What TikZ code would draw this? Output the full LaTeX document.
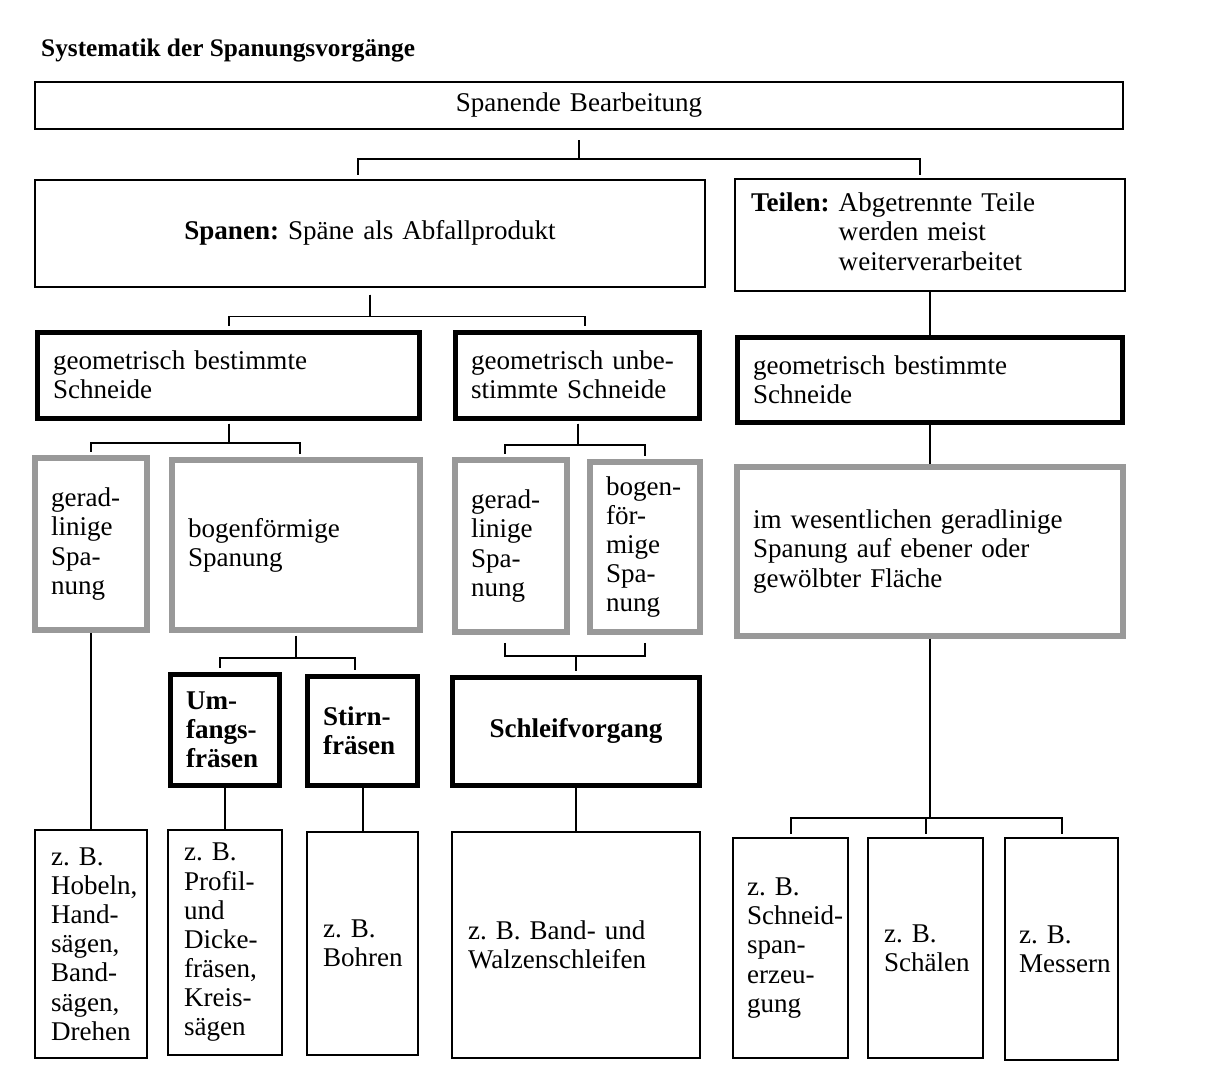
\documentclass[tikz,border=0pt]{standalone}
\usepackage{fontspec}
\setmainfont{Liberation Serif}
\usepackage{tikz}
\hyphenpenalty=10000
\exhyphenpenalty=10000
\frenchspacing
\definecolor{spangrey}{gray}{0.6}

\begin{document}
\begin{tikzpicture}[x=0.02cm,y=-0.02cm]
  \tikzset{every node/.style={font=\fontsize{15.4}{16.6}\selectfont},
    thin box/.style 2 args={draw,line width=0.04cm,text width=#1,minimum height=#2,inner xsep=0.32cm,align=left},
    thick box/.style 2 args={draw,line width=0.1cm,text width=#1,minimum height=#2,inner xsep=0.32cm,align=left},
    grey box/.style 2 args={draw=spangrey,line width=0.12cm,text width=#1,minimum height=#2,inner xsep=0.32cm,align=left},
    fork/.style={line width=0.04cm,shorten >=0.07cm},
    fork line/.style={line width=0.04cm}}
  \useasboundingbox (0,0) rectangle (1218,1090);

  \node (titel) [anchor=base west,font=\bfseries\fontsize{14.4}{16}\selectfont] at (35,56) {Systematik der Spanungsvorgänge};

  \node (spbear) [thin box={21.12cm}{0.94cm},align=center] at (579,105.5) {Spanende Bearbeitung};
  \node (spanen) [thin box={12.76cm}{2.14cm},align=center] at (370,233) {\textbf{Spanen:} Späne als Abfallprodukt};
  \node (teilen) [thin box={7.16cm}{2.24cm}] at (930,235) {\textbf{Teilen:} \begin{tabular}[t]{@{}l@{}}Abgetrennte Teile\\werden meist\\weiterverarbeitet\end{tabular}};

  \node (gbs1) [thick box={7.02cm}{1.72cm}] at (228.5,375) {geometrisch bestimmte\\Schneide};
  \node (gus) [thick box={4.26cm}{1.72cm}] at (577.5,375) {geometrisch unbe-\\stimmte Schneide};
  \node (gbs2) [thick box={7.08cm}{1.7cm}] at (930,379.5) {geometrisch bestimmte\\Schneide};

  \node (gl1) [grey box={1.6cm}{3.44cm}] at (91,544) {gerad-\\linige\\Spa-\\nung};
  \node (bf1) [grey box={4.32cm}{3.4cm}] at (296,545) {bogenförmige\\Spanung};
  \node (gl2) [grey box={1.6cm}{3.44cm}] at (511,546) {gerad-\\linige\\Spa-\\nung};
  \node (bf2) [grey box={1.56cm}{3.4cm}] at (645,547) {bogen-\\för-\\mige\\Spa-\\nung};
  \node (imw) [grey box={7.08cm}{3.38cm}] at (930,551.5) {im wesentlichen geradlinige\\Spanung auf ebener oder\\gewölbter Fläche};

  \node (umf) [thick box={1.56cm}{2.22cm},font=\bfseries\fontsize{15.4}{16.6}\selectfont] at (225,729.5) {Um-\\fangs-\\fräsen};
  \node (stirn) [thick box={1.58cm}{2.18cm},font=\bfseries\fontsize{15.4}{16.6}\selectfont] at (362.5,730.5) {Stirn-\\fräsen};
  \node (schleif) [thick box={4.32cm}{2.16cm},align=center,font=\bfseries\fontsize{15.4}{16.6}\selectfont] at (576,731) {Schleifvorgang};

  \node (bsp1) [thin box={1.6cm}{4.56cm}] at (91,944) {z. B.\\Hobeln,\\Hand-\\sägen,\\Band-\\sägen,\\Drehen};
  \node (bsp2) [thin box={1.64cm}{4.5cm}] at (225,942.5) {z. B.\\Profil-\\und\\Dicke-\\fräsen,\\Kreis-\\sägen};
  \node (bsp3) [thin box={1.58cm}{4.46cm}] at (362.5,943.5) {z. B.\\Bohren};
  \node (bsp4) [thin box={4.32cm}{4.52cm}] at (576,945) {z. B. Band- und\\Walzenschleifen};
  \node (bsp5) [thin box={1.74cm}{4.4cm},inner xsep=0.28cm] at (790.5,948) {z. B.\\Schneid-\\span-\\erzeu-\\gung};
  \node (bsp6) [thin box={1.66cm}{4.4cm}] at (925.5,948) {z. B.\\Schälen};
  \node (bsp7) [thin box={1.7cm}{4.44cm},inner xsep=0.28cm] at (1061.5,949) {z. B.\\Messern};

  \draw[fork] (spbear.south) ++(0,10) -- ++(0,19) -| ([xshift=-0.24cm]spanen.north);
  \draw[fork] (spbear.south) ++(0,10) -- ++(0,19) -| ([xshift=-0.2cm]teilen.north);
  \draw[fork] (spanen.south) ++(0,7) -- ++(0,22) -| (gbs1.north);
  \draw[fork] (spanen.south) ++(0,7) -- ++(0,22) -| ([xshift=0.15cm]gus.north);
  \draw[fork line] (teilen) -- (gbs2);
  \draw[fork] (gbs1.south) ++(0,3) -- ++(0,19) -| (gl1.north);
  \draw[fork] (gbs1.south) ++(0,3) -- ++(0,19) -| ([xshift=0.08cm]bf1.north);
  \draw[fork] (gus.south) ++(0,3) -- ++(0,21) -| ([xshift=-0.12cm]gl2.north);
  \draw[fork] (gus.south) ++(0,3) -- ++(0,21) -| (bf2.north);
  \draw[fork line] (gbs2) -- (imw);
  \draw[fork] (bf1.south) ++(0,3) -- ++(0,22) -| ([xshift=-0.1cm]umf.north);
  \draw[fork] (bf1.south) ++(0,3) -- ++(0,22) -| ([xshift=-0.15cm]stirn.north);
  \draw[fork] ([xshift=-0.12cm]gl2.south) ++(0,8) -- ++(0,13) -| (schleif.north);
  \draw[fork] (bf2.south) ++(0,8) -- ++(0,13) -| (schleif.north);
  \draw[fork line] (gl1) -- (bsp1);
  \draw[fork line] (umf) -- (bsp2);
  \draw[fork line] (stirn) -- (bsp3);
  \draw[fork line] (schleif) -- (bsp4);
  \draw[fork] (imw.south) -- ++(0,179) -| (bsp5.north);
  \draw[fork] (imw.south) -- ++(0,179) -| (bsp6.north);
  \draw[fork] (imw.south) -- ++(0,179) -| (bsp7.north);
\end{tikzpicture}
\end{document}
